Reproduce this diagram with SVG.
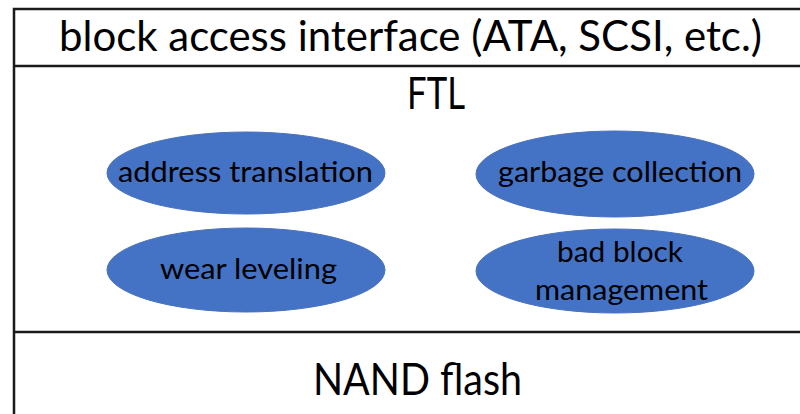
<svg xmlns="http://www.w3.org/2000/svg" width="800" height="414" viewBox="0 0 800 414">
  <style>
    .frame { stroke: #1a1a1a; stroke-width: 2.5; fill: none; }
    .oval { fill: #4472C4; stroke: #4A72BD; stroke-width: 1; }
    .t { font-family: Lato, "Open Sans", "Liberation Sans", sans-serif; fill: #000; }
    .big { font-size: 45px; }
    .head { font-size: 42px; }
    .small { font-size: 29px; }
  </style>
  <rect x="0" y="0" width="800" height="414" fill="#ffffff"/>
  <g id="frame">
    <path class="frame" d="M14,414 V9 H801 M14,66 H801 M14,332 H801"/>
  </g>
  <g id="block-interface">
    <text class="t head" x="59" y="51" textLength="703" lengthAdjust="spacingAndGlyphs">block access interface (ATA, SCSI, etc.)</text>
  </g>
  <g id="ftl">
    <text class="t big" x="407" y="109" textLength="58" lengthAdjust="spacingAndGlyphs">FTL</text>
  </g>
  <g id="address-translation">
    <ellipse class="oval" cx="246" cy="173" rx="139" ry="41"/>
    <text class="t small" x="118" y="182" textLength="255" lengthAdjust="spacingAndGlyphs">address translation</text>
  </g>
  <g id="garbage-collection">
    <ellipse class="oval" cx="615" cy="174" rx="139" ry="43"/>
    <text class="t small" x="498" y="182" textLength="244" lengthAdjust="spacingAndGlyphs">garbage collection</text>
  </g>
  <g id="wear-leveling">
    <ellipse class="oval" cx="246" cy="270" rx="139" ry="42"/>
    <text class="t small" x="160" y="279" textLength="177" lengthAdjust="spacingAndGlyphs">wear leveling</text>
  </g>
  <g id="bad-block-management">
    <ellipse class="oval" cx="615" cy="271" rx="139" ry="42"/>
    <text class="t small" x="557" y="262" textLength="126" lengthAdjust="spacingAndGlyphs">bad block</text>
    <text class="t small" x="535" y="300" textLength="173" lengthAdjust="spacingAndGlyphs">management</text>
  </g>
  <g id="nand-flash">
    <text class="t big" x="313" y="395" textLength="209" lengthAdjust="spacingAndGlyphs">NAND flash</text>
  </g>
  <g id="connectors"/>
</svg>
